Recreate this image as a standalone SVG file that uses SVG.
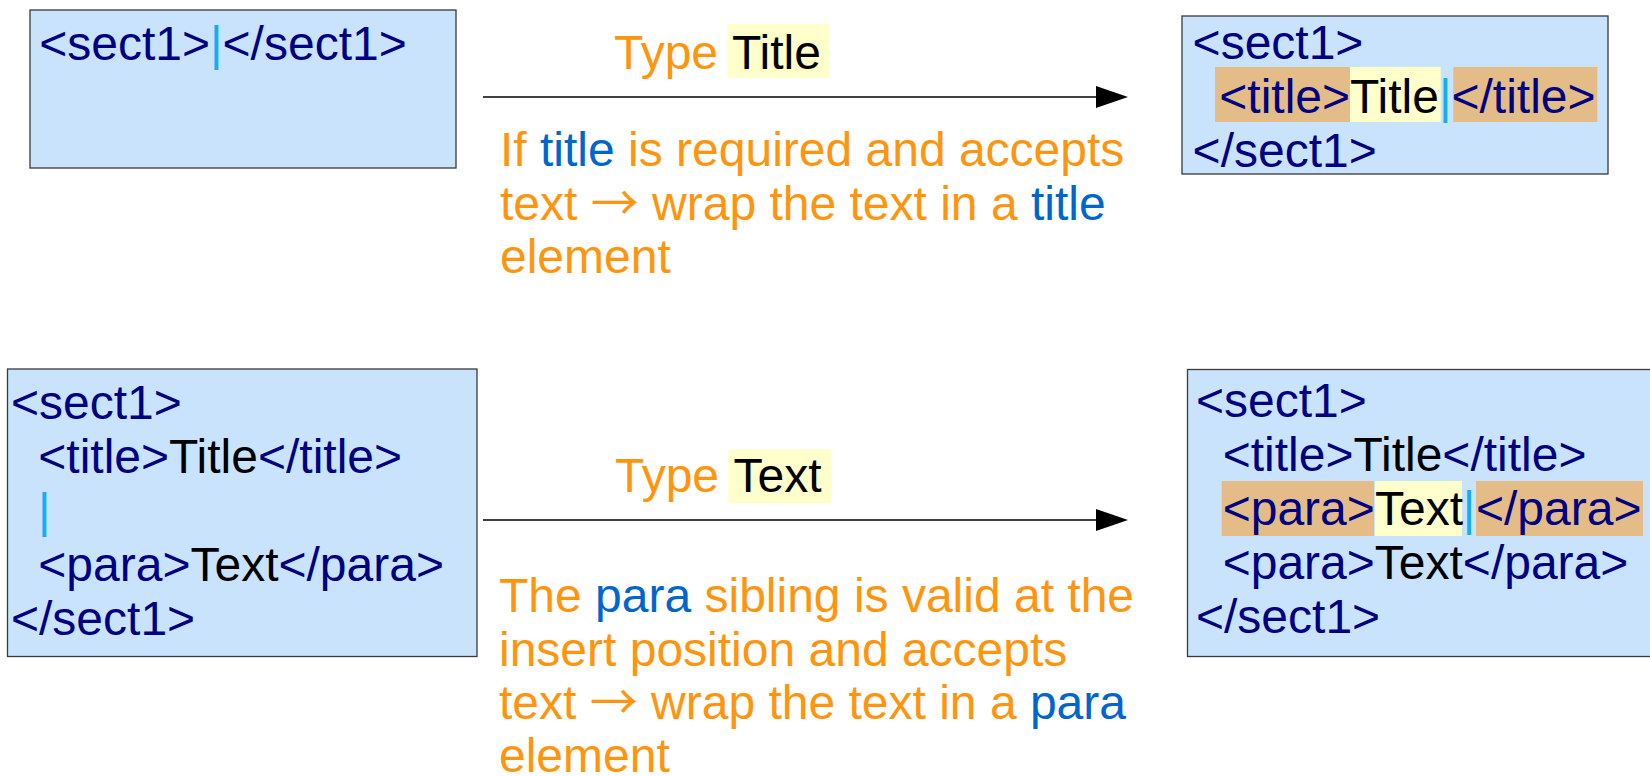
<svg xmlns="http://www.w3.org/2000/svg" width="1650" height="776" viewBox="0 0 1650 776">
<defs>
<style>
text { font-family: "Liberation Sans", Arial, sans-serif; font-size: 48px; }
.arr { font-family: "Noto Sans CJK JP", "Liberation Sans", sans-serif; }
.bg { fill: #ffffff; }
.box { fill: #c9e3fc; stroke: #3a3a3a; stroke-width: 1.3; }
.tag { fill: #000080; }
.val { fill: #000000; }
.cur { fill: #14aef0; }
.hl-tag { fill: #e3bc88; }
.hl-val { fill: #ffffcc; }
.note { fill: #ff950e; }
.kw { fill: #0066cc; }
.edge { stroke: #000000; stroke-width: 1.4; fill: none; }
</style>
<marker id="arrow" markerUnits="userSpaceOnUse" markerWidth="33" markerHeight="23" refX="4" refY="11" orient="auto">
<path d="M0,0 L32,11 L0,22 z" fill="#000000"/>
</marker>
</defs>
<rect class="bg" x="0" y="0" width="1650" height="776"/>

<g id="node-before-title">
<rect class="box" x="30" y="10" width="426" height="158"/>
<text x="39.3" y="60"><tspan class="tag">&lt;sect1&gt;</tspan><tspan class="cur">|</tspan><tspan class="tag">&lt;/sect1&gt;</tspan></text>
</g>

<g id="node-after-title">
<rect class="box" x="1182" y="16" width="426" height="158"/>
<rect class="hl-tag" x="1215" y="67" width="135" height="55"/>
<rect class="hl-val" x="1350" y="67" width="90.7" height="55"/>
<rect class="hl-tag" x="1453.3" y="67" width="144" height="55"/>
<text x="1192.6" y="59" class="tag">&lt;sect1&gt;</text>
<text y="113"><tspan x="1219.3" class="tag">&lt;title&gt;</tspan><tspan class="val">Title</tspan><tspan class="cur">|</tspan><tspan class="tag">&lt;/title&gt;</tspan></text>
<text x="1192.6" y="167" class="tag">&lt;/sect1&gt;</text>
</g>

<g id="node-before-text">
<rect class="box" x="7.5" y="369" width="469.5" height="287.5"/>
<text x="11" y="419" class="tag">&lt;sect1&gt;</text>
<text y="473"><tspan x="38.3" class="tag">&lt;title&gt;</tspan><tspan class="val">Title</tspan><tspan class="tag">&lt;/title&gt;</tspan></text>
<text x="38" y="527" class="cur">|</text>
<text y="581"><tspan x="38.3" class="tag">&lt;para&gt;</tspan><tspan class="val">Text</tspan><tspan class="tag">&lt;/para&gt;</tspan></text>
<text x="11" y="635" class="tag">&lt;/sect1&gt;</text>
</g>

<g id="node-after-text">
<rect class="box" x="1187.5" y="369.5" width="480" height="287"/>
<rect class="hl-tag" x="1221.7" y="481" width="152.3" height="55"/>
<rect class="hl-val" x="1375" y="481" width="87" height="55"/>
<rect class="hl-tag" x="1476" y="481" width="167" height="55"/>
<text x="1196" y="417" class="tag">&lt;sect1&gt;</text>
<text y="471"><tspan x="1222.7" class="tag">&lt;title&gt;</tspan><tspan class="val">Title</tspan><tspan class="tag">&lt;/title&gt;</tspan></text>
<text y="525"><tspan x="1222.7" class="tag">&lt;para&gt;</tspan><tspan x="1375" class="val">Text</tspan><tspan x="1462.7" class="cur">|</tspan><tspan x="1476" class="tag">&lt;/para&gt;</tspan></text>
<text y="579"><tspan x="1222.7" class="tag">&lt;para&gt;</tspan><tspan class="val">Text</tspan><tspan class="tag">&lt;/para&gt;</tspan></text>
<text x="1196" y="633" class="tag">&lt;/sect1&gt;</text>
</g>

<g id="connectors">
<line class="edge" x1="483" y1="97" x2="1100" y2="97" marker-end="url(#arrow)"/>
<line class="edge" x1="483" y1="520" x2="1100" y2="520" marker-end="url(#arrow)"/>
</g>

<g id="label-type-title">
<rect class="hl-val" x="727" y="24" width="102" height="54"/>
<text y="69"><tspan x="614" class="note">Type</tspan><tspan x="732" class="val">Title</tspan></text>
<text class="note" x="500" y="166">If <tspan class="kw">title</tspan> is required and accepts</text>
<text class="note" x="500" y="220">text <tspan class="arr">→</tspan> wrap the text in a <tspan class="kw">title</tspan></text>
<text class="note" x="500" y="273">element</text>
</g>

<g id="label-type-text">
<rect class="hl-val" x="728.3" y="449.3" width="102.7" height="54"/>
<text y="492"><tspan x="615" class="note">Type</tspan><tspan x="733.5" class="val">Text</tspan></text>
<text class="note" x="499" y="612">The <tspan class="kw">para</tspan> sibling is valid at the</text>
<text class="note" x="499" y="666">insert position and accepts</text>
<text class="note" x="499" y="719">text <tspan class="arr">→</tspan> wrap the text in a <tspan class="kw">para</tspan></text>
<text class="note" x="499" y="772">element</text>
</g>
</svg>
